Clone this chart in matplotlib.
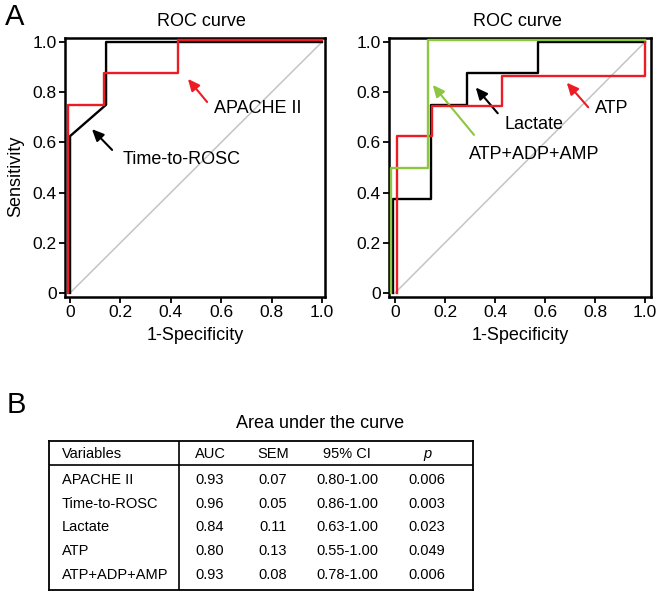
import matplotlib
matplotlib.use("Agg")
import matplotlib.pyplot as plt

plt.rcParams['font.family'] = ['Liberation Sans', 'DejaVu Sans']

# ROC step curves (1-specificity, sensitivity)
apache_x = [-0.008, -0.008, 0.136, 0.136, 0.429, 0.429, 1.0]
apache_y = [0.0, 0.75, 0.75, 0.875, 0.875, 1.008, 1.008]
rosc_x = [0.0, 0.0, 0.143, 0.143, 1.0]
rosc_y = [0.0, 0.625, 0.75, 1.0, 1.0]

lactate_x = [-0.007, -0.007, 0.143, 0.143, 0.286, 0.286, 0.571, 0.571, 1.0]
lactate_y = [0.0, 0.375, 0.375, 0.75, 0.75, 0.875, 0.875, 1.0, 1.0]
atp_x = [0.007, 0.007, 0.149, 0.149, 0.429, 0.429, 1.0, 1.0]
atp_y = [0.0, 0.625, 0.625, 0.745, 0.745, 0.865, 0.865, 1.0]
nuc_x = [-0.016, -0.016, 0.131, 0.131, 1.0]
nuc_y = [0.0, 0.5, 0.5, 1.01, 1.01]

ticks = [0, 0.2, 0.4, 0.6, 0.8, 1.0]
tick_labels = ['0', '0.2', '0.4', '0.6', '0.8', '1.0']

# table values
headers = ['Variables', 'AUC', 'SEM', '95% CI', 'p']
variables = ['APACHE II', 'Time-to-ROSC', 'Lactate', 'ATP', 'ATP+ADP+AMP']
auc = ['0.93', '0.96', '0.84', '0.80', '0.93']
sem = ['0.07', '0.05', '0.11', '0.13', '0.08']
ci95 = ['0.80-1.00', '0.86-1.00', '0.63-1.00', '0.55-1.00', '0.78-1.00']
pvals = ['0.006', '0.003', '0.023', '0.049', '0.006']

RED = '#ed1c24'
GREEN = '#8dc63f'
GRAY = '#c4c4c4'

W, H = 663, 595
fig = plt.figure(figsize=(W / 100, H / 100), dpi=100)


def px_axes(l, t, r, b):
    return fig.add_axes([l / W, 1 - b / H, (r - l) / W, (b - t) / H])


def style_roc(ax, xlim, title_x, ylabel=True):
    ax.plot([0, 1], [0, 1], color=GRAY, lw=1.1, zorder=1)
    ax.set_xlim(*xlim)
    ax.set_ylim(-0.016, 1.016)
    ax.set_xticks(ticks)
    ax.set_xticklabels(tick_labels)
    ax.set_yticks(ticks)
    ax.set_yticklabels(tick_labels)
    ax.tick_params(direction='out', length=4, width=1.3, labelsize=12.5, pad=2)
    for s in ax.spines.values():
        s.set_linewidth(1.8)
    ax.set_xlabel('1-Specificity', fontsize=13)
    ax.xaxis.set_label_coords(0.5, -0.115)
    if ylabel:
        ax.set_ylabel('Sensitivity', fontsize=13)
        ax.yaxis.set_label_coords(-0.155, 0.467)
    ax.text(title_x, 1.062, 'ROC curve', transform=ax.transAxes,
            ha='center', va='center', fontsize=13)


def arrow(ax, tail, tip, color):
    ax.annotate('', xy=tip, xytext=tail,
                arrowprops=dict(arrowstyle='-|>,head_length=0.7,head_width=0.32',
                                color=color, lw=1.5, shrinkA=0, shrinkB=0))


# left ROC panel
ax1 = px_axes(65, 38, 325, 297)
style_roc(ax1, (-0.020, 1.012), 0.523)
ax1.plot(rosc_x, rosc_y, color='black', lw=1.7, zorder=3)
ax1.plot(apache_x, apache_y, color=RED, lw=1.7, zorder=4)
ax1.text(0.746, 0.737, 'APACHE II', ha='center', va='center', fontsize=13)
arrow(ax1, (0.544, 0.761), (0.468, 0.853), RED)
ax1.text(0.444, 0.530, 'Time-to-ROSC', ha='center', va='center', fontsize=13)
arrow(ax1, (0.167, 0.570), (0.087, 0.653), 'black')

# right ROC panel
ax2 = px_axes(389, 38, 651, 297)
style_roc(ax2, (-0.024, 1.024), 0.492, ylabel=False)
ax2.plot(lactate_x, lactate_y, color='black', lw=1.7, zorder=3)
ax2.plot(atp_x, atp_y, color=RED, lw=1.7, zorder=4)
ax2.plot(nuc_x, nuc_y, color=GREEN, lw=1.7, zorder=5)
ax2.text(0.867, 0.737, 'ATP', ha='center', va='center', fontsize=13)
arrow(ax2, (0.773, 0.740), (0.687, 0.838), RED)
ax2.text(0.556, 0.673, 'Lactate', ha='center', va='center', fontsize=13)
arrow(ax2, (0.411, 0.716), (0.323, 0.819), 'black')
ax2.text(0.556, 0.550, 'ATP+ADP+AMP', ha='center', va='center', fontsize=13)
arrow(ax2, (0.316, 0.630), (0.151, 0.829), GREEN)

fig.text(15 / W, 1 - 17 / H, 'A', ha='center', va='center', fontsize=21)
fig.text(16 / W, 1 - 405 / H, 'B', ha='center', va='center', fontsize=21)

# table (B) drawn in pixel-like coordinates
tab = px_axes(49, 441, 473, 590)
tab.set_xlim(49, 473)
tab.set_ylim(590, 441)
tab.set_xticks([])
tab.set_yticks([])
for s in tab.spines.values():
    s.set_linewidth(1.3)
tab.axhline(464.5, color='black', lw=1.2)
tab.axvline(179, color='black', lw=1.2)

col_x = [62, 210, 273, 347, 427]
header_y = 454
row_y = [480, 503.7, 527.3, 551, 575]
for i, h in enumerate(headers):
    tab.text(col_x[i], header_y, h, ha='left' if i == 0 else 'center', va='center',
             fontsize=10.5, style='italic' if h == 'p' else 'normal')
cols = [variables, auc, sem, ci95, pvals]
for i, col in enumerate(cols):
    for j, val in enumerate(col):
        tab.text(col_x[i], row_y[j], val, ha='left' if i == 0 else 'center',
                 va='center', fontsize=10.5)

fig.text(320 / W, 1 - 423 / H, 'Area under the curve', ha='center', va='center', fontsize=13)

fig.savefig('out.png', dpi=100)
